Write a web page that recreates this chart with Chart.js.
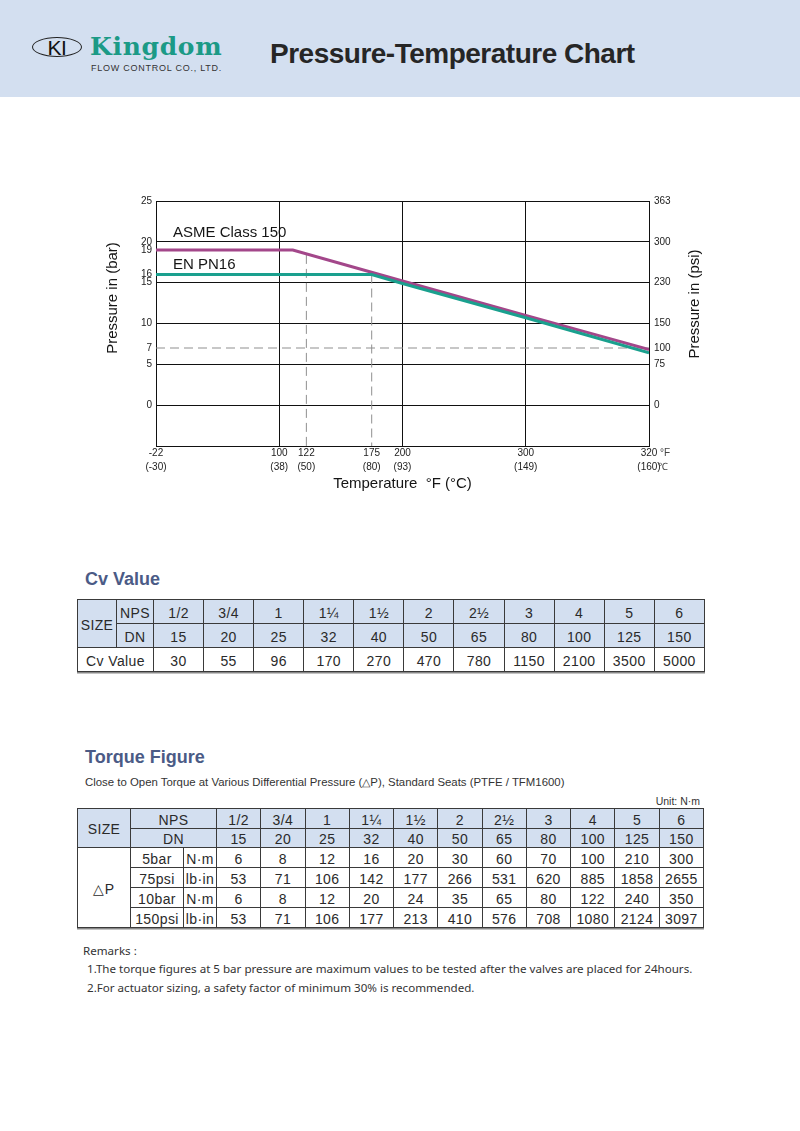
<!DOCTYPE html>
<html>
<head>
<meta charset="utf-8">
<title>Pressure-Temperature Chart</title>
<script src="https://cdn.jsdelivr.net/npm/chart.js@4/dist/chart.umd.min.js"></script>
<style>
  body { margin: 0; width: 800px; height: 1131px; position: relative; overflow: hidden;
         background: #fff; color: #333; font-family: "Liberation Sans", Arial, sans-serif; }
  .abs { position: absolute; line-height: 1; white-space: nowrap; }
  .band { left: 0; top: 0; width: 800px; height: 97px; background: #d3dff0; }
  .oval { left: 32px; top: 37px; width: 48px; height: 18px; border: 1.4px solid #222; border-radius: 50%;
          font-size: 21px; color: #111; text-align: center; line-height: 19px; letter-spacing: -0.5px; }
  .brand { left: 90px; top: 34px; font-family: "DejaVu Serif", "Liberation Serif", serif; font-weight: bold;
           font-size: 25px; color: #1b9a86; letter-spacing: 0.7px; }
  .sub { left: 91px; top: 64px; font-size: 9px; color: #333; letter-spacing: 0.75px; }
  .title { left: 270px; top: 40px; font-size: 28px; font-weight: bold; color: #262626; letter-spacing: -0.5px; }
  .head { left: 85px; font-size: 18px; font-weight: bold; color: #4b5b86; }
  #chartBox { position: absolute; left: 60px; top: 180px; width: 680px; height: 330px; }
  table.grid { position: absolute; border-collapse: collapse; table-layout: fixed; box-shadow: 0 1.5px 0 #888; }
  table.grid td { border: 1px solid #3a3a3a; text-align: center; padding: 2px 0 0 0; font-size: 14px;
                  color: #2a2a2a; white-space: nowrap; letter-spacing: 0.4px; }
  table.grid td.h { background: #d3dff0; }
  .note { font-size: 11.4px; color: #333; }
  .remark { font-family: "Noto Sans", sans-serif; font-size: 11.6px; color: #333; }
</style>
</head>
<body>
<div class="abs band"></div>
<div class="abs oval">KI</div>
<div class="abs brand">Kingdom</div>
<div class="abs sub">FLOW CONTROL CO., LTD.</div>
<div class="abs title">Pressure-Temperature Chart</div>

<div id="chartBox"><canvas id="ptchart"></canvas></div>

<div class="abs head" style="top:570px">Cv Value</div>
<table class="grid" id="cvTable" style="left:77px;top:599px;width:628px"></table>

<div class="abs head" style="top:748px">Torque Figure</div>
<div class="abs note" style="left:85px;top:777px">Close to Open Torque at Various Differential Pressure (△P), Standard Seats (PTFE / TFM1600)</div>
<div class="abs note" style="right:100px;top:796px;font-size:10.5px">Unit: N·m</div>
<table class="grid" id="torqueTable" style="left:77px;top:808px;width:627px"></table>

<div class="abs remark" style="left:83px;top:945px">Remarks :</div>
<div class="abs remark" style="left:87px;top:963px">1.The torque figures at 5 bar pressure are maximum values to be tested after the valves are placed for 24hours.</div>
<div class="abs remark" style="left:87px;top:982px">2.For actuator sizing, a safety factor of minimum 30% is recommended.</div>

<script>
// pressure-temperature ratings (bar)
const seriesNames = ['ASME Class 150', 'EN PN16'];
const asmeTempF = [-22, 111, 200, 300, 320];
const asmeBar = [19, 19, 15.2, 11.0, 6.8];
const pn16TempF = [-22, 175, 200, 300, 320];
const pn16Bar = [16, 16, 14.9, 10.7, 6.4];

// dashed guide lines
const guideTempF = [122, 175];
const guideTopBar = [18.4, 16];
const guideBar = 7;

// axes
const xTickF = [-22, 100, 122, 175, 200, 300, 320];
const xTickC = [-30, 38, 50, 80, 93, 149, 160];
const xGridF = [-22, 100, 200, 300, 320]; // the axis is drawn in 4 equal segments
const yMin = -5, yMax = 25;
const yTickBar = [0, 5, 7, 10, 15, 16, 19, 20, 25];
const yGridBar = [0, 5, 10, 15, 20, 25];
const psiTickBar = [0, 5, 7, 10, 15, 20, 25];
const psiLabels = ['0', '75', '100', '150', '230', '300', '363'];

// tables
const npsSizes = ['1/2', '3/4', '1', '1¼', '1½', '2', '2½', '3', '4', '5', '6'];
const dnSizes = [15, 20, 25, 32, 40, 50, 65, 80, 100, 125, 150];
const cvValues = [30, 55, 96, 170, 270, 470, 780, 1150, 2100, 3500, 5000];
const torqueRows = ['5bar', '75psi', '10bar', '150psi'];
const torqueUnits = ['N·m', 'lb·in', 'N·m', 'lb·in'];
const torque5bar = [6, 8, 12, 16, 20, 30, 60, 70, 100, 210, 300];
const torque75psi = [53, 71, 106, 142, 177, 266, 531, 620, 885, 1858, 2655];
const torque10bar = [6, 8, 12, 20, 24, 35, 65, 80, 122, 240, 350];
const torque150psi = [53, 71, 106, 177, 213, 410, 576, 708, 1080, 2124, 3097];

// °F -> position on the segmented x axis (0..4)
function toAxis(f) {
  for (let i = 0; i < xGridF.length - 1; i++) {
    if (f <= xGridF[i + 1] || i === xGridF.length - 2) {
      return i + (f - xGridF[i]) / (xGridF[i + 1] - xGridF[i]);
    }
  }
}

const FONT = '"Liberation Sans", Arial, sans-serif';
Chart.defaults.font.family = FONT;

const dash = { borderColor: '#8f8f8f', borderWidth: 1, borderDash: [9, 5], pointRadius: 0, tension: 0 };

const guideSets = guideTempF.map((f, i) => Object.assign({
  data: [{ x: toAxis(f), y: guideTopBar[i] }, { x: toAxis(f), y: yMin }]
}, dash));
guideSets.push(Object.assign({
  data: [{ x: toAxis(xGridF[0]), y: guideBar }, { x: toAxis(xGridF[xGridF.length - 1]), y: guideBar }]
}, dash));

const textPlugin = {
  id: 'pageText',
  afterDraw(c) {
    const ctx = c.ctx, x = c.scales.x, y = c.scales.y, area = c.chartArea;
    ctx.save();
    ctx.fillStyle = '#151515';
    ctx.textBaseline = 'middle';
    ctx.font = '15px ' + FONT;
    // series labels
    ctx.textAlign = 'left';
    ctx.fillText(seriesNames[0], x.getPixelForValue(0) + 17, y.getPixelForValue(asmeBar[0]) - 17);
    ctx.fillText(seriesNames[1], x.getPixelForValue(0) + 17, y.getPixelForValue(pn16Bar[0]) - 10);
    // axis titles
    ctx.textAlign = 'center';
    ctx.save();
    ctx.translate(53, area.top + 97);
    ctx.rotate(-Math.PI / 2);
    ctx.fillText('Pressure in (bar)', 0, 0);
    ctx.restore();
    ctx.save();
    ctx.translate(635, area.top + 103);
    ctx.rotate(-Math.PI / 2);
    ctx.fillText('Pressure in (psi)', 0, 0);
    ctx.restore();
    // unit marks after the last tick
    ctx.font = '10px ' + FONT;
    ctx.fillStyle = '#444';
    ctx.textAlign = 'left';
    const xr = x.getPixelForValue(4);
    ctx.fillText('°F', xr + 11, area.bottom + 7);
    ctx.fillText('℃', xr + 9, area.bottom + 21);
    ctx.restore();
  }
};

const chart = new Chart(document.getElementById('ptchart').getContext('2d'), {
  type: 'line',
  data: {
    datasets: [
      { label: seriesNames[1], data: pn16TempF.map((f, i) => ({ x: toAxis(f), y: pn16Bar[i] })),
        borderColor: '#1aa08e', borderWidth: 3, pointRadius: 0, tension: 0 },
      { label: seriesNames[0], data: asmeTempF.map((f, i) => ({ x: toAxis(f), y: asmeBar[i] })),
        borderColor: '#a3478a', borderWidth: 3, pointRadius: 0, tension: 0 }
    ].concat(guideSets)
  },
  options: {
    responsive: true,
    maintainAspectRatio: false,
    animation: false,
    layout: { padding: { top: 21, left: 0, right: 0, bottom: 0 } },
    plugins: { legend: { display: false }, tooltip: { enabled: false } },
    scales: {
      x: {
        type: 'linear', min: 0, max: 4,
        afterBuildTicks: s => { s.ticks = xTickF.map(f => ({ value: toAxis(f) })); },
        afterFit: s => { s.height = 64; },
        grid: { color: c => (c.tick && xGridF.includes(xTickF[c.index])) ? '#111' : 'rgba(0,0,0,0)', drawTicks: false },
        border: { color: '#111', width: 1 },
        ticks: { autoSkip: false, maxRotation: 0, padding: 0, color: '#222',
                 font: { size: 10, lineHeight: 1.4 },
                 callback: (v, i) => [String(xTickF[i]), '(' + xTickC[i] + ')'] },
        title: { display: true, text: 'Temperature  °F (°C)', color: '#151515',
                 font: { size: 15 }, padding: { top: 0, bottom: 17 } }
      },
      y: {
        type: 'linear', position: 'left', min: yMin, max: yMax,
        afterBuildTicks: s => { s.ticks = yTickBar.map(v => ({ value: v })); },
        afterFit: s => { s.width = 96; },
        grid: { color: c => (c.tick && yGridBar.includes(c.tick.value)) ? '#111' : 'rgba(0,0,0,0)', drawTicks: false },
        border: { color: '#111', width: 1 },
        ticks: { autoSkip: false, padding: 4, color: '#222', font: { size: 10 }, callback: v => String(v) }
      },
      y2: {
        type: 'linear', position: 'right', min: yMin, max: yMax,
        afterBuildTicks: s => { s.ticks = psiTickBar.map(v => ({ value: v })); },
        afterFit: s => { s.width = 91; },
        grid: { drawOnChartArea: false, drawTicks: false },
        border: { color: '#111', width: 1 },
        ticks: { autoSkip: false, padding: 5, color: '#222', font: { size: 10 }, callback: (v, i) => psiLabels[i] }
      }
    }
  },
  plugins: [textPlugin]
});

// tables
function tds(list, cls) {
  return list.map(v => '<td' + (cls ? ' class="' + cls + '"' : '') + '>' + v + '</td>').join('');
}

const cvCols = '<colgroup><col style="width:39px"><col style="width:37px">' +
  npsSizes.map(() => '<col>').join('') + '</colgroup>';
document.getElementById('cvTable').innerHTML = cvCols +
  '<tr style="height:24px"><td class="h" rowspan="2">SIZE</td><td class="h">NPS</td>' + tds(npsSizes, 'h') + '</tr>' +
  '<tr style="height:24px"><td class="h">DN</td>' + tds(dnSizes, 'h') + '</tr>' +
  '<tr style="height:24px"><td colspan="2">Cv Value</td>' + tds(cvValues) + '</tr>';

const torqueData = [torque5bar, torque75psi, torque10bar, torque150psi];
const tqCols = '<colgroup><col style="width:53px"><col style="width:53px"><col style="width:33px">' +
  npsSizes.map(() => '<col>').join('') + '</colgroup>';
let tq = tqCols +
  '<tr style="height:20px"><td class="h" rowspan="2">SIZE</td><td class="h" colspan="2">NPS</td>' + tds(npsSizes, 'h') + '</tr>' +
  '<tr style="height:19px"><td class="h" colspan="2">DN</td>' + tds(dnSizes, 'h') + '</tr>';
torqueData.forEach((row, r) => {
  tq += '<tr style="height:20px">' + (r === 0 ? '<td rowspan="4">△P</td>' : '') +
    '<td>' + torqueRows[r] + '</td><td>' + torqueUnits[r] + '</td>' + tds(row) + '</tr>';
});
document.getElementById('torqueTable').innerHTML = tq;
</script>
</body>
</html>
